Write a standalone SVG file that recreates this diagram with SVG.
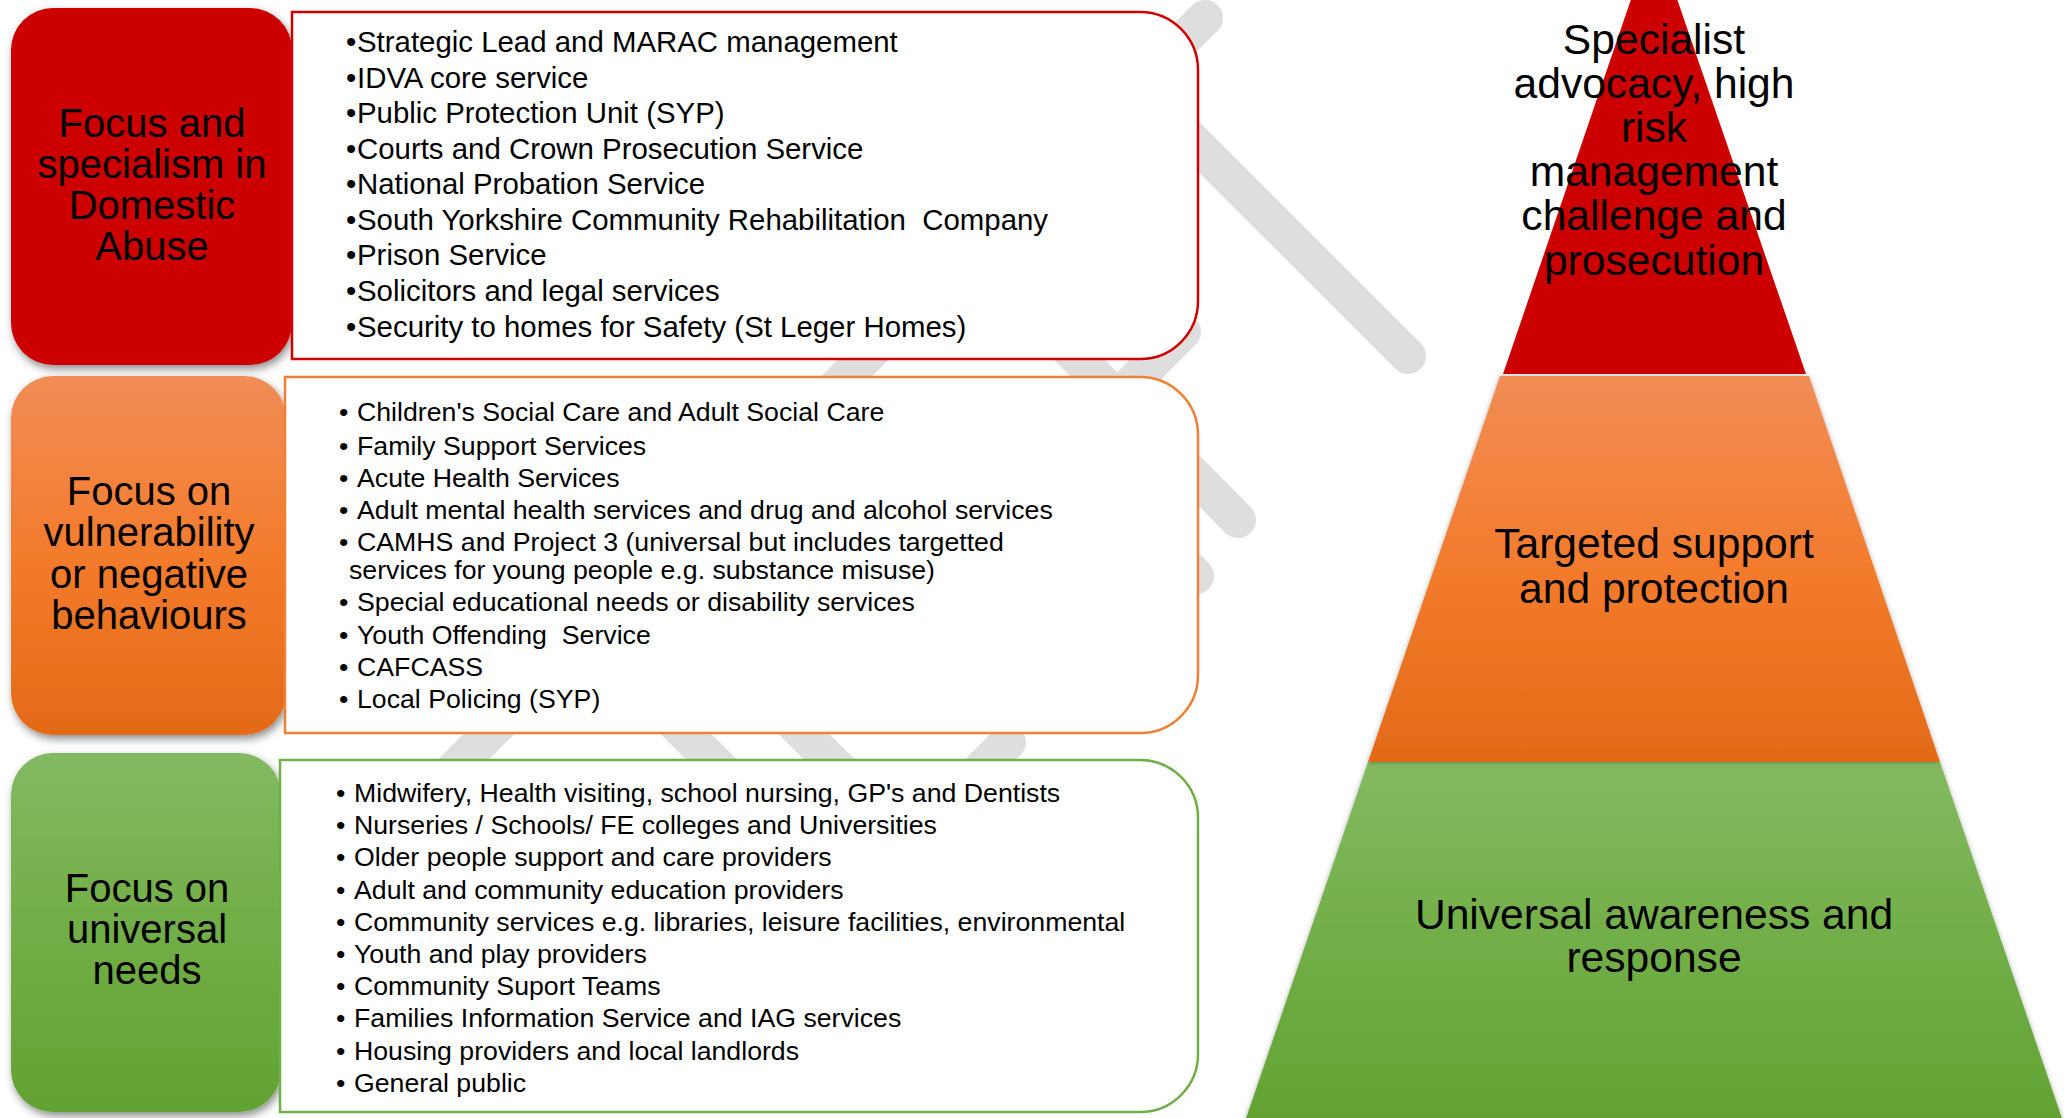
<svg xmlns="http://www.w3.org/2000/svg" width="2064" height="1118" viewBox="0 0 2064 1118">
  <defs>
    <style>
      text { font-family: "Liberation Sans", Arial, sans-serif; fill: #000; }
      .node-label { font-size: 40px; text-anchor: middle; }
      .tier-label { font-size: 42.6px; text-anchor: middle; }
      .list-a { font-size: 29.4px; white-space: pre; }
      .list-b { font-size: 26.7px; white-space: pre; }
      .mark { stroke: #dedede; stroke-width: 36; stroke-linecap: round; fill: none; }
      .box { fill: #ffffff; stroke-width: 2.5; }
    </style>
    <linearGradient id="gOrange" x1="0" y1="0" x2="0" y2="1">
      <stop offset="0" stop-color="#f18d56"/>
      <stop offset="0.5" stop-color="#f37b2c"/>
      <stop offset="1" stop-color="#e36a18"/>
    </linearGradient>
    <linearGradient id="gGreen" x1="0" y1="0" x2="0" y2="1">
      <stop offset="0" stop-color="#83b962"/>
      <stop offset="0.5" stop-color="#71ae47"/>
      <stop offset="1" stop-color="#62a232"/>
    </linearGradient>
    <filter id="shadow" x="-10%" y="-10%" width="125%" height="125%">
      <feDropShadow dx="2" dy="4" stdDeviation="4" flood-color="#000" flood-opacity="0.45"/>
    </filter>
    <filter id="softEdge" x="-5%" y="-5%" width="110%" height="110%">
      <feDropShadow dx="0" dy="0" stdDeviation="2.5" flood-color="#000" flood-opacity="0.3"/>
    </filter>
  </defs>

  <rect width="2064" height="1118" fill="#ffffff"/>

  <!-- faint grey backdrop strokes, mostly covered by the white boxes -->
  <g id="backdrop">
    <line class="mark" x1="1205" y1="18" x2="440" y2="783"/>
    <line class="mark" x1="1100" y1="48" x2="1408" y2="356"/>
    <line class="mark" x1="1040" y1="320" x2="1238" y2="520"/>
    <line class="mark" x1="1183" y1="332" x2="1090" y2="425"/>
    <line class="mark" x1="620" y1="668" x2="760" y2="808"/>
    <line class="mark" x1="740" y1="670" x2="880" y2="810"/>
    <line class="mark" x1="1008" y1="742" x2="950" y2="800"/>
    <line class="mark" x1="1150" y1="530" x2="1196" y2="576"/>
  </g>

  <!-- tier 1: specialist -->
  <g id="node-specialist">
    <rect x="11" y="8" width="281" height="357" rx="42" fill="#cc0000" filter="url(#shadow)"/>
    <text class="node-label" x="152" y="137">Focus and</text>
    <text class="node-label" x="152" y="178">specialism in</text>
    <text class="node-label" x="152" y="219">Domestic</text>
    <text class="node-label" x="152" y="260">Abuse</text>
  </g>
  <g id="list-specialist">
    <path class="box" stroke="#d10000" d="M292,12 H1140 A58,58 0 0 1 1198,70 V301 A58,58 0 0 1 1140,359 H292 Z"/>
    <text class="list-a" y="52"><tspan x="346">•</tspan><tspan x="357">Strategic Lead and MARAC management</tspan></text>
    <text class="list-a" y="87.5"><tspan x="346">•</tspan><tspan x="357">IDVA core service</tspan></text>
    <text class="list-a" y="123"><tspan x="346">•</tspan><tspan x="357">Public Protection Unit (SYP)</tspan></text>
    <text class="list-a" y="158.6"><tspan x="346">•</tspan><tspan x="357">Courts and Crown Prosecution Service</tspan></text>
    <text class="list-a" y="194.2"><tspan x="346">•</tspan><tspan x="357">National Probation Service</tspan></text>
    <text class="list-a" y="229.8"><tspan x="346">•</tspan><tspan x="357">South Yorkshire Community Rehabilitation  Company</tspan></text>
    <text class="list-a" y="265.4"><tspan x="346">•</tspan><tspan x="357">Prison Service</tspan></text>
    <text class="list-a" y="301"><tspan x="346">•</tspan><tspan x="357">Solicitors and legal services</tspan></text>
    <text class="list-a" y="336.6"><tspan x="346">•</tspan><tspan x="357">Security to homes for Safety (St Leger Homes)</tspan></text>
  </g>

  <!-- tier 2: targeted -->
  <g id="node-targeted">
    <rect x="11" y="376" width="275" height="359" rx="42" fill="url(#gOrange)" filter="url(#shadow)"/>
    <text class="node-label" x="149" y="505">Focus on</text>
    <text class="node-label" x="149" y="546">vulnerability</text>
    <text class="node-label" x="149" y="588">or negative</text>
    <text class="node-label" x="149" y="629">behaviours</text>
  </g>
  <g id="list-targeted">
    <path class="box" stroke="#f08033" d="M285,377 H1140 A58,58 0 0 1 1198,435 V675 A58,58 0 0 1 1140,733 H285 Z"/>
    <text class="list-b" y="421"><tspan x="339">•</tspan><tspan x="357">Children's Social Care and Adult Social Care</tspan></text>
    <text class="list-b" y="455"><tspan x="339">•</tspan><tspan x="357">Family Support Services</tspan></text>
    <text class="list-b" y="487"><tspan x="339">•</tspan><tspan x="357">Acute Health Services</tspan></text>
    <text class="list-b" y="519"><tspan x="339">•</tspan><tspan x="357">Adult mental health services and drug and alcohol services</tspan></text>
    <text class="list-b" y="551"><tspan x="339">•</tspan><tspan x="357">CAMHS and Project 3 (universal but includes targetted</tspan></text>
    <text class="list-b" x="349" y="579">services for young people e.g. substance misuse)</text>
    <text class="list-b" y="611"><tspan x="339">•</tspan><tspan x="357">Special educational needs or disability services</tspan></text>
    <text class="list-b" y="644"><tspan x="339">•</tspan><tspan x="357">Youth Offending  Service</tspan></text>
    <text class="list-b" y="676"><tspan x="339">•</tspan><tspan x="357">CAFCASS</tspan></text>
    <text class="list-b" y="708"><tspan x="339">•</tspan><tspan x="357">Local Policing (SYP)</tspan></text>
  </g>

  <!-- tier 3: universal -->
  <g id="node-universal">
    <rect x="11" y="753" width="270" height="359" rx="42" fill="url(#gGreen)" filter="url(#shadow)"/>
    <text class="node-label" x="147" y="902">Focus on</text>
    <text class="node-label" x="147" y="943">universal</text>
    <text class="node-label" x="147" y="984">needs</text>
  </g>
  <g id="list-universal">
    <path class="box" stroke="#72ae48" d="M280,760 H1140 A58,58 0 0 1 1198,818 V1054 A58,58 0 0 1 1140,1112 H280 Z"/>
    <text class="list-b" y="802"><tspan x="336">•</tspan><tspan x="354">Midwifery, Health visiting, school nursing, GP's and Dentists</tspan></text>
    <text class="list-b" y="834"><tspan x="336">•</tspan><tspan x="354">Nurseries / Schools/ FE colleges and Universities</tspan></text>
    <text class="list-b" y="866"><tspan x="336">•</tspan><tspan x="354">Older people support and care providers</tspan></text>
    <text class="list-b" y="899"><tspan x="336">•</tspan><tspan x="354">Adult and community education providers</tspan></text>
    <text class="list-b" y="931"><tspan x="336">•</tspan><tspan x="354">Community services e.g. libraries, leisure facilities, environmental</tspan></text>
    <text class="list-b" y="963"><tspan x="336">•</tspan><tspan x="354">Youth and play providers</tspan></text>
    <text class="list-b" y="995"><tspan x="336">•</tspan><tspan x="354">Community Suport Teams</tspan></text>
    <text class="list-b" y="1027"><tspan x="336">•</tspan><tspan x="354">Families Information Service and IAG services</tspan></text>
    <text class="list-b" y="1060"><tspan x="336">•</tspan><tspan x="354">Housing providers and local landlords</tspan></text>
    <text class="list-b" y="1092"><tspan x="336">•</tspan><tspan x="354">General public</tspan></text>
  </g>

  <!-- pyramid -->
  <g id="tier-universal">
    <polygon points="1368,762 1940,762 2066,1130 1242,1130" fill="url(#gGreen)" filter="url(#softEdge)"/>
    <text class="tier-label" x="1654" y="929">Universal awareness and</text>
    <text class="tier-label" x="1654" y="972">response</text>
  </g>
  <g id="tier-targeted">
    <polygon points="1500,376 1809,376 1940,762 1368,762" fill="url(#gOrange)" filter="url(#softEdge)"/>
    <text class="tier-label" x="1654" y="558">Targeted support</text>
    <text class="tier-label" x="1654" y="603">and protection</text>
  </g>
  <g id="tier-specialist">
    <polygon points="1654,-68 1806,374 1503,374" fill="#cc0000"/>
    <text class="tier-label" x="1654" y="54">Specialist</text>
    <text class="tier-label" x="1654" y="98">advocacy, high</text>
    <text class="tier-label" x="1654" y="142">risk</text>
    <text class="tier-label" x="1654" y="186">management</text>
    <text class="tier-label" x="1654" y="230">challenge and</text>
    <text class="tier-label" x="1654" y="275">prosecution</text>
  </g>
</svg>
